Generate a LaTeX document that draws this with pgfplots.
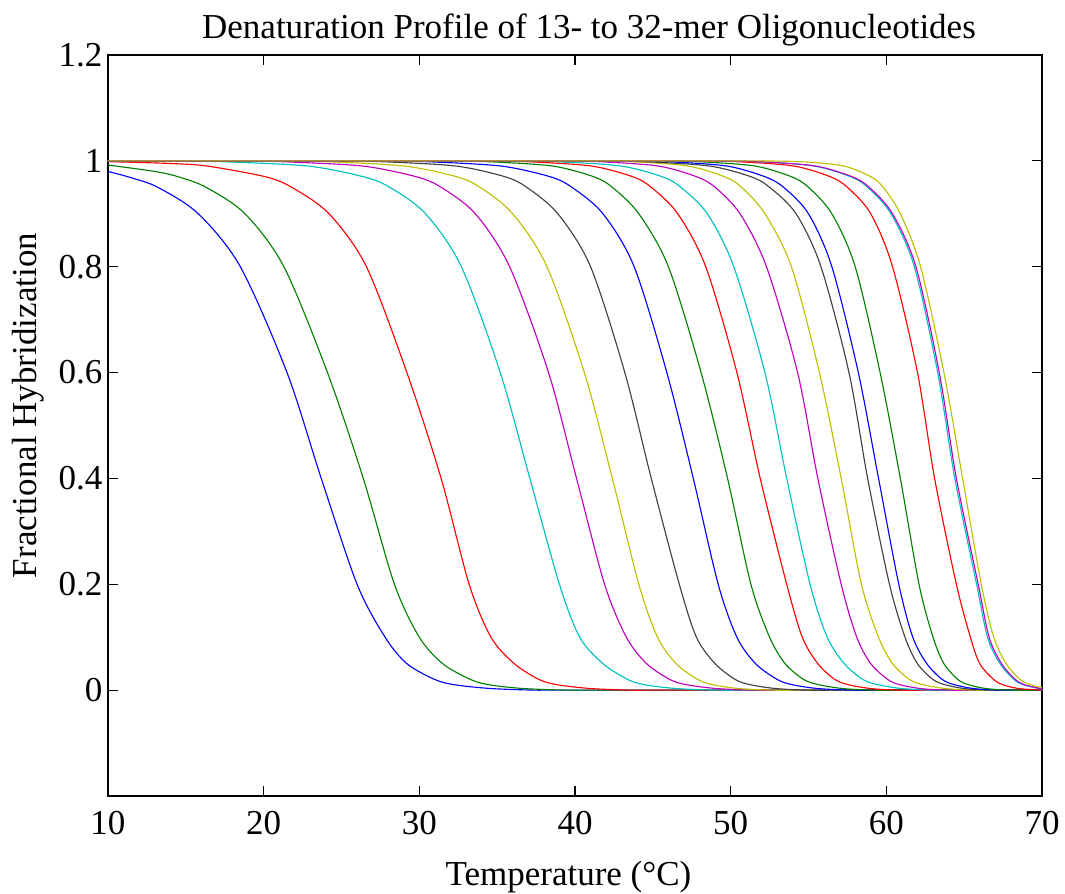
\documentclass[border=0pt]{standalone}
\usepackage{fontspec}
\setmainfont{Liberation Serif}
\usepackage{pgfplots}
\pgfplotsset{compat=1.18}
\definecolor{mB}{rgb}{0,0,1}
\definecolor{mG}{rgb}{0,0.5,0}
\definecolor{mR}{rgb}{1,0,0}
\definecolor{mC}{rgb}{0,0.75,0.75}
\definecolor{mM}{rgb}{0.75,0,0.75}
\definecolor{mY}{rgb}{0.75,0.75,0}
\definecolor{mK}{rgb}{0.25,0.25,0.25}
\begin{document}
\begin{tikzpicture}
\begin{axis}[
  name=ax,
  scale only axis,
  width=373.6pt, height=296.4pt,
  xmin=10, xmax=70, ymin=-0.2, ymax=1.2,
  xtick={10,20,30,40,50,60,70},
  xticklabels={10,20,30,40,50,60,70},
  ytick={0,0.2,0.4,0.6,0.8,1,1.2},
  yticklabels={0,0.2,0.4,0.6,0.8,1,1.2},
  tick align=inside,
  major tick length=4pt,
  axis line style={line width=1pt},
  tick style={black, line width=0.5pt},
  ticklabel style={font=\fontsize{14}{16}\selectfont, inner sep=1pt},
  xticklabel style={yshift=-5pt},
  yticklabel style={xshift=-1pt},
  title={Denaturation Profile of 13- to 32-mer Oligonucleotides},
  title style={font=\fontsize{14}{16}\selectfont, at={(axis description cs:0.515,1)}, anchor=center, yshift=4.2pt},
  xlabel={Temperature (°C)},
  ylabel={Fractional Hybridization},
  xlabel style={font=\fontsize{14}{16}\selectfont, at={(axis description cs:0.493,-0.109)}, anchor=center},
  ylabel style={font=\fontsize{14}{16}\selectfont, at={(axis description cs:-0.085,0.527)}, anchor=center, rotate=0},
  every axis plot/.append style={line width=0.45pt, smooth, no markers},
  clip=true,
]
% 1 blue
\addplot[mB] coordinates {(10,0.980)(11.5,0.968)(13.2,0.95)(15.8,0.9)(18.5,0.8)(21.5,0.6)(23.7,0.4)(26.0,0.2)(27.8,0.1)(29.2,0.05)(31.0,0.02)(32.3,0.01)(34.6,0.003)(37.5,0)(40.5,0)(70,0)};
% 2 green
\addplot[mG] coordinates {(10,0.992)(13,0.98)(14.5,0.97)(16.3,0.95)(18.8,0.9)(21.3,0.8)(24.1,0.6)(26.4,0.4)(28.4,0.2)(30.0,0.1)(31.5,0.05)(33.3,0.02)(34.5,0.01)(36.7,0.003)(39.6,0)(42.6,0)(70,0)};
% 3 red
\addplot[mR] coordinates {(10,0.9985)(14.0,0.995)(16.4,0.99)(20.1,0.97)(21.8,0.95)(24.2,0.9)(26.6,0.8)(29.2,0.6)(31.4,0.4)(33.2,0.2)(34.6,0.1)(36.1,0.05)(37.7,0.02)(38.9,0.01)(41.0,0.003)(43.6,0)(46.6,0)(70,0)};
% 4 cyan
\addplot[mC] coordinates {(10,1)(11.7,1)(14.7,0.9999)(17.7,0.998)(22.9,0.99)(26.4,0.97)(28.1,0.95)(30.4,0.9)(32.7,0.8)(35.2,0.6)(37.1,0.4)(39.0,0.2)(40.3,0.1)(41.8,0.05)(43.4,0.02)(44.5,0.01)(46.5,0.003)(49.1,0)(52.1,0)(70,0)};
% 5 magenta
\addplot[mM] coordinates {(10,1)(15.5,1)(18.5,0.9999)(21.5,0.998)(26.4,0.99)(29.8,0.97)(31.4,0.95)(33.6,0.9)(35.8,0.8)(38.3,0.6)(40.1,0.4)(41.9,0.2)(43.3,0.1)(44.6,0.05)(46.1,0.02)(47.2,0.01)(49.1,0.003)(51.6,0)(54.6,0)(70,0)};
% 6 yellow
\addplot[mY] coordinates {(10,1)(18.4,1)(21.4,0.9999)(24.4,0.998)(29.1,0.99)(32.4,0.97)(33.9,0.95)(36.0,0.9)(38.2,0.8)(40.6,0.6)(42.4,0.4)(44.1,0.2)(45.3,0.1)(46.5,0.05)(47.9,0.02)(48.9,0.01)(50.5,0.003)(52.7,0)(55.7,0)(70,0)};
% 7 black
\addplot[mK] coordinates {(10,1)(21.9,1)(24.9,0.9999)(27.9,0.998)(32.4,0.99)(35.5,0.97)(36.9,0.95)(38.9,0.9)(41.0,0.8)(43.2,0.6)(44.9,0.4)(46.7,0.2)(47.8,0.1)(49.0,0.05)(50.3,0.02)(51.3,0.01)(52.9,0.003)(55.0,0)(58.0,0)(70,0)};
% 8 blue
\addplot[mB] coordinates {(10,1)(24.8,1)(27.8,0.9999)(30.8,0.998)(35.3,0.99)(38.4,0.97)(39.8,0.95)(41.8,0.9)(43.8,0.8)(45.9,0.6)(47.6,0.4)(49.2,0.2)(50.4,0.1)(51.6,0.05)(53.0,0.02)(54.0,0.01)(55.6,0.003)(57.8,0)(60.8,0)(70,0)};
% 9 green
\addplot[mG] coordinates {(10,1)(28.7,1)(31.7,0.9999)(34.7,0.998)(38.6,0.99)(41.2,0.97)(42.4,0.95)(44.1,0.9)(46.0,0.8)(48.1,0.6)(49.8,0.4)(51.3,0.2)(52.5,0.1)(53.5,0.05)(54.7,0.02)(55.7,0.01)(57.2,0.003)(59.2,0)(62.2,0)(70,0)};
% 10 red
\addplot[mR] coordinates {(10,1)(31.2,1)(34.2,0.9999)(37.2,0.998)(41.1,0.99)(43.7,0.97)(44.9,0.95)(46.6,0.9)(48.4,0.8)(50.4,0.6)(51.9,0.4)(53.6,0.2)(54.6,0.1)(55.6,0.05)(56.7,0.02)(57.6,0.01)(59.0,0.003)(60.8,0)(63.8,0)(70,0)};
% 11 cyan
\addplot[mC] coordinates {(10,1)(33.1,1)(36.1,0.9999)(39.1,0.998)(43.0,0.99)(45.6,0.97)(46.8,0.95)(48.5,0.9)(50.2,0.8)(52.2,0.6)(53.6,0.4)(55.1,0.2)(56.2,0.1)(57.3,0.05)(58.5,0.02)(59.5,0.01)(61.0,0.003)(63.0,0)(66.0,0)(70,0)};
% 12 magenta
\addplot[mM] coordinates {(10,1)(35.8,1)(38.8,0.9999)(41.8,0.998)(45.4,0.99)(47.8,0.97)(49.0,0.95)(50.6,0.9)(52.3,0.8)(54.3,0.6)(55.6,0.4)(57.1,0.2)(58.1,0.1)(59.0,0.05)(60.1,0.02)(60.9,0.01)(62.2,0.003)(63.9,0)(66.9,0)(70,0)};
% 13 yellow
\addplot[mY] coordinates {(10,1)(37.9,1)(40.9,0.9999)(43.9,0.998)(47.3,0.99)(49.6,0.97)(50.7,0.95)(52.2,0.9)(53.9,0.8)(55.7,0.6)(57.1,0.4)(58.4,0.2)(59.5,0.1)(60.4,0.05)(61.5,0.02)(62.4,0.01)(63.8,0.003)(65.6,0)(68.0,0)(70,0)};
% 14 black
\addplot[mK] coordinates {(10,1)(38.8,1)(41.8,0.9999)(44.8,0.998)(48.7,0.99)(51.3,0.97)(52.5,0.95)(54.2,0.9)(55.8,0.8)(57.6,0.6)(58.8,0.4)(60.2,0.2)(61.2,0.1)(62.0,0.05)(63.0,0.02)(63.8,0.01)(65.0,0.003)(66.7,0)(70,0)};
% 15 blue
\addplot[mB] coordinates {(10,1)(40.2,1)(43.2,0.9999)(46.2,0.998)(49.8,0.99)(52.2,0.97)(53.4,0.95)(55.0,0.9)(56.5,0.8)(58.2,0.6)(59.5,0.4)(60.8,0.2)(61.7,0.1)(62.6,0.05)(63.6,0.02)(64.4,0.01)(65.6,0.003)(67.3,0)(70,0)};
% 16 green
\addplot[mG] coordinates {(10,1)(42.2,1)(45.2,0.9999)(48.2,0.998)(51.6,0.99)(53.9,0.97)(55.0,0.95)(56.5,0.9)(58.0,0.8)(59.6,0.6)(60.9,0.4)(62.1,0.2)(63.0,0.1)(63.7,0.05)(64.6,0.02)(65.3,0.01)(66.4,0.003)(67.9,0)(70,0)};
% 17 red
\addplot[mR] coordinates {(10,1)(44.7,1)(47.7,0.9999)(50.7,0.998)(54.1,0.99)(56.4,0.97)(57.5,0.95)(59.0,0.9)(60.4,0.8)(62.0,0.6)(63.1,0.4)(64.5,0.2)(65.4,0.1)(66.0,0.05)(66.9,0.02)(67.5,0.01)(68.5,0.003)(70,0)};
% 18 cyan
\addplot[mC] coordinates {(10,1)(46.0,1)(49.0,0.9999)(52.0,0.998)(55.4,0.99)(57.7,0.97)(58.8,0.95)(60.3,0.9)(61.8,0.8)(63.3,0.6)(64.4,0.4)(65.8,0.2)(66.5,0.1)(67.3,0.05)(68.2,0.02)(68.8,0.01)(69.8,0.003)(70,0.002)};
% 19 magenta
\addplot[mM] coordinates {(10,1)(46.1,1)(49.1,0.9999)(52.1,0.998)(55.5,0.99)(57.8,0.97)(58.9,0.95)(60.4,0.9)(61.9,0.8)(63.4,0.6)(64.5,0.4)(65.9,0.2)(66.6,0.1)(67.4,0.05)(68.3,0.02)(68.9,0.01)(69.9,0.003)(70,0.002)};
% 20 yellow
\addplot[mY] coordinates {(10,1)(48.8,1)(51.8,0.9999)(54.8,0.998)(57.3,0.99)(59.0,0.97)(59.8,0.95)(60.9,0.9)(62.2,0.8)(63.7,0.6)(64.9,0.4)(66.1,0.2)(66.9,0.1)(67.7,0.05)(68.6,0.02)(69.3,0.01)(70,0.005)};
\end{axis}
\pgfresetboundingbox
\path ([shift={(-43.2pt,-39.2pt)}]ax.south west) rectangle ([shift={(9.2pt,22pt)}]ax.north east);
\end{tikzpicture}
\end{document}
